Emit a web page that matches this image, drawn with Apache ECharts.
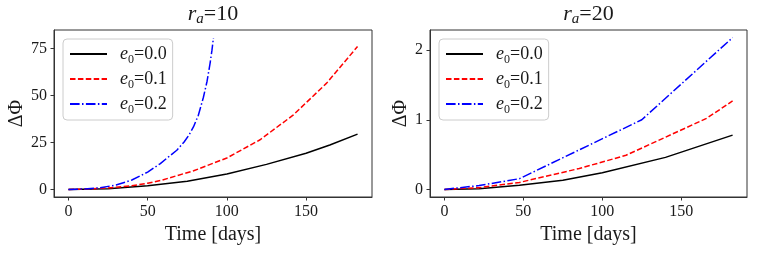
<!DOCTYPE html>
<html>
<head>
<meta charset="utf-8">
<script src="https://cdn.jsdelivr.net/npm/echarts@6/dist/echarts.min.js"></script>
<style>html,body{margin:0;padding:0;background:#fff}#c{width:758px;height:253px}</style>
</head>
<body>
<div id="c"></div>
<script>
// ---- data ----
const eccLabels = ['0.0', '0.1', '0.2'];
const panelTitles = ['10', '20'];
const xTicks = [0, 50, 100, 150];
const leftYTicks = [0, 25, 50, 75];
const rightYTicks = [0, 1, 2];

// r_a = 10
const l0T = [0, 25, 50, 75, 100, 125, 150, 165, 182.5];
const l0V = [0, 0.4, 1.9, 4.3, 8.2, 13.3, 19.2, 23.6, 29.4];
const l1T = [0, 10, 25, 40, 50, 58, 79, 100, 121, 142, 163, 182.5];
const l1V = [0, 0.15, 0.8, 1.9, 3.3, 4.7, 9.9, 16.7, 26.4, 39.6, 56.5, 76.0];
const l2T = [0, 10, 20, 30, 40, 50, 58, 63, 68.4, 73, 76, 78.9, 82, 85.2, 87.5, 89.4, 90.6, 91.5];
const l2V = [0, 0.2, 0.9, 2.3, 5.0, 9.2, 13.7, 17.2, 20.8, 25.2, 28.8, 33.2, 39.4, 49.0, 57.5, 67.0, 74.0, 80.5];

// r_a = 20
const r0T = [0, 22, 47.5, 75, 100, 140, 182.5];
const r0V = [0, 0.01, 0.06, 0.13, 0.24, 0.46, 0.78];
const r1T = [0, 22, 47.5, 85.4, 115, 166, 182.5];
const r1V = [0, 0.025, 0.10, 0.30, 0.49, 1.02, 1.27];
const r2T = [0, 22, 47.5, 125, 182.5];
const r2V = [0, 0.055, 0.154, 1.0, 2.18];

// ---- chart ----
const FONT = 'Liberation Serif';
const TXT = '#1a1a1a';
const AX = '#333333';
const colors = ['#000000', '#ff0000', '#0000ff'];
const dashes = ['solid', [5.5, 2.4], [9.6, 2.4, 1.5, 2.4]];
const pairs = (t, v) => t.map((x, i) => [x, v[i]]);

const chart = echarts.init(document.getElementById('c'), null, {renderer: 'canvas'});

const grids = [
  {left: 54, top: 30, width: 318, height: 167},
  {left: 430, top: 30, width: 317, height: 167}
];

function xAxis(idx) {
  return {
    type: 'value', gridIndex: idx, min: -9.125, max: 191.625,
    name: 'Time [days]', nameLocation: 'middle', nameGap: 20,
    nameTextStyle: {fontFamily: FONT, fontSize: 20, color: TXT},
    axisLine: {show: true, onZero: false, lineStyle: {color: AX, width: 1}},
    splitLine: {show: false},
    axisTick: {show: true, length: 3.5, lineStyle: {color: AX, width: 1}, customValues: xTicks},
    axisLabel: {fontFamily: FONT, fontSize: 16, color: TXT, margin: 7, customValues: xTicks}
  };
}
function yAxis(idx, min, max, ticks, gap) {
  return {
    type: 'value', gridIndex: idx, min: min, max: max,
    name: 'ΔΦ', nameLocation: 'middle', nameGap: gap, nameRotate: 90,
    nameTextStyle: {fontFamily: FONT, fontSize: 20, color: TXT},
    axisLine: {show: true, onZero: false, lineStyle: {color: AX, width: 1}},
    splitLine: {show: false},
    axisTick: {show: true, length: 3.5, lineStyle: {color: AX, width: 1}, customValues: ticks},
    axisLabel: {fontFamily: FONT, fontSize: 16, color: TXT, margin: 7, customValues: ticks}
  };
}

const subRich = {
  i: {fontFamily: FONT, fontStyle: 'italic', fontSize: 18, lineHeight: 24, color: TXT},
  s: {fontFamily: FONT, fontSize: 12, lineHeight: 12, verticalAlign: 'bottom', color: TXT},
  n: {fontFamily: FONT, fontSize: 18, lineHeight: 24, color: TXT}
};
const titleRich = {
  i: {fontFamily: FONT, fontStyle: 'italic', fontWeight: 'normal', fontSize: 22, lineHeight: 26, color: TXT},
  s: {fontFamily: FONT, fontStyle: 'italic', fontWeight: 'normal', fontSize: 15, lineHeight: 14, verticalAlign: 'bottom', color: TXT},
  n: {fontFamily: FONT, fontWeight: 'normal', fontSize: 22, lineHeight: 26, color: TXT}
};

const names = [['A0', 'A1', 'A2'], ['B0', 'B1', 'B2']];
const panelData = [
  [pairs(l0T, l0V), pairs(l1T, l1V), pairs(l2T, l2V)],
  [pairs(r0T, r0V), pairs(r1T, r1V), pairs(r2T, r2V)]
];

const series = [];
for (let p = 0; p < 2; p++) {
  for (let k = 0; k < 3; k++) {
    series.push({
      type: 'line', name: names[p][k], xAxisIndex: p, yAxisIndex: p,
      data: panelData[p][k], symbol: 'none', showSymbol: false, smooth: false,
      lineStyle: {color: colors[k], width: 1.5, type: dashes[k]},
      itemStyle: {color: colors[k]},
      animation: false, silent: true
    });
  }
}

function legend(p, left) {
  return {
    data: names[p], orient: 'vertical', left: left, top: 39,
    itemWidth: 37, itemHeight: 10, itemGap: 1,
    padding: [3, 6, 4, 6],
    backgroundColor: '#fff', borderColor: '#cccccc', borderWidth: 1, borderRadius: 4,
    selectedMode: false,
    itemStyle: {opacity: 0},
    formatter: function (name) {
      const k = Number(name.slice(1));
      return '{i|e}{s|0}{n|=' + eccLabels[k] + '}';
    },
    textStyle: {padding: [0, 0, 0, 8], lineHeight: 24, rich: subRich}
  };
}

chart.setOption({
  animation: false,
  backgroundColor: '#fff',
  title: [
    {text: '{i|r}{s|a}{n|=' + panelTitles[0] + '}', left: 213, top: 1, textAlign: 'center', padding: 0, textStyle: {fontWeight: 'normal', rich: titleRich}},
    {text: '{i|r}{s|a}{n|=' + panelTitles[1] + '}', left: 588.5, top: 1, textAlign: 'center', padding: 0, textStyle: {fontWeight: 'normal', rich: titleRich}}
  ],
  grid: grids.map(g => Object.assign({show: true, borderColor: AX, borderWidth: 1, backgroundColor: 'transparent'}, g)),
  xAxis: [xAxis(0), xAxis(1)],
  yAxis: [yAxis(0, -4.04, 84.74, leftYTicks, 27), yAxis(1, -0.109, 2.289, rightYTicks, 19)],
  legend: [legend(0, 63), legend(1, 439)],
  series: series
});
</script>
</body>
</html>
